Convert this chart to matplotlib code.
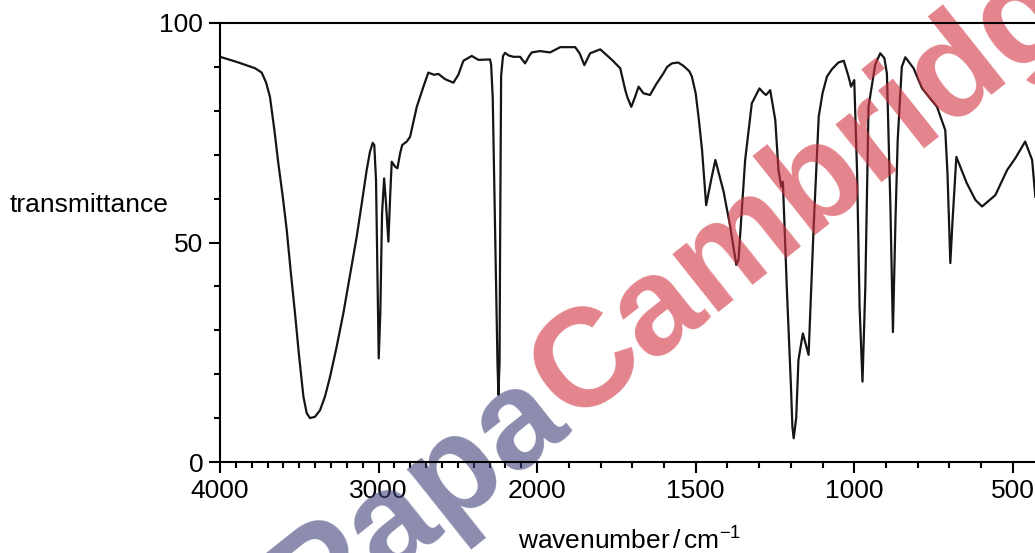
import numpy as np
import matplotlib
matplotlib.use("Agg")
import matplotlib.pyplot as plt
from matplotlib.ticker import FixedLocator

plt.rcParams['font.family'] = ['Liberation Sans', 'DejaVu Sans']
plt.rcParams['mathtext.fontset'] = 'custom'
plt.rcParams['mathtext.rm'] = 'Liberation Sans'
plt.rcParams['mathtext.it'] = 'Liberation Sans'

# IR spectrum: wavenumber (cm-1) and transmittance (%)
wavenumber = [4000, 3900, 3779, 3737, 3710, 3685, 3657, 3632, 3604, 3579, 3554, 3527,
              3502, 3474, 3453, 3432, 3401, 3369, 3338, 3306, 3264, 3222, 3180, 3138,
              3106, 3075, 3054, 3037, 3027, 3016, 3008, 2999, 2989, 2978, 2965, 2953,
              2938, 2927, 2917, 2896, 2881, 2864, 2851, 2822, 2801, 2759, 2717, 2686,
              2650, 2623, 2580, 2528, 2497, 2465, 2412, 2370, 2297, 2290, 2280, 2265,
              2250, 2244, 2237, 2233, 2227, 2215, 2202, 2180, 2149, 2107, 2076, 2050,
              2034, 1991, 1959, 1927, 1880, 1866, 1851, 1833, 1801, 1764, 1738, 1722,
              1715, 1703, 1692, 1680, 1665, 1644, 1625, 1602, 1590, 1575, 1555, 1538,
              1520, 1512, 1500, 1490, 1480, 1467, 1452, 1438, 1412, 1391, 1372, 1365,
              1355, 1344, 1323, 1299, 1285, 1278, 1265, 1249, 1239, 1230, 1225, 1212,
              1200, 1195, 1191, 1183, 1176, 1162, 1144, 1128, 1112, 1100, 1086, 1070,
              1050, 1033, 1018, 1010, 1000, 991, 983, 974, 965, 955, 934, 918,
              905, 897, 886, 878, 870, 863, 850, 839, 813, 786, 739, 713,
              706, 697, 690, 678, 645, 618, 597, 555, 518, 492, 461, 439,
              429]
transmittance = [92.3, 91.2, 89.7, 88.7, 86.5, 83.2, 75.6, 68.0, 60.4, 52.8, 43.4, 33.9,
                 24.4, 14.9, 11.1, 10.0, 10.3, 11.8, 14.9, 19.4, 26.3, 33.9, 42.6, 51.3,
                 58.9, 66.5, 70.7, 72.7, 72.2, 64.2, 45.3, 23.6, 33.9, 56.6, 64.6, 58.9,
                 50.2, 60.4, 68.4, 67.3, 66.9, 70.3, 72.2, 73.0, 74.1, 80.9, 85.5, 88.7,
                 88.2, 88.4, 87.2, 86.4, 88.2, 91.4, 92.5, 91.6, 91.7, 90.5, 83.0, 52.8,
                 22.5, 15.3, 22.5, 52.8, 88.0, 92.5, 93.2, 92.6, 92.3, 92.3, 90.8, 92.5,
                 93.3, 93.6, 93.3, 94.5, 94.5, 93.1, 90.4, 93.1, 94.0, 91.6, 89.7, 84.7,
                 83.0, 80.9, 83.0, 85.5, 84.0, 83.6, 86.0, 88.5, 90.0, 90.8, 91.0, 90.2,
                 89.0, 87.8, 84.0, 78.0, 71.1, 58.5, 64.0, 68.8, 61.6, 53.6, 44.9, 46.0,
                 57.0, 68.8, 81.7, 85.1, 84.0, 83.6, 84.7, 77.9, 66.5, 62.7, 63.8, 38.5,
                 18.0, 8.0, 5.4, 10.0, 23.2, 29.3, 24.4, 53.6, 78.7, 84.0, 87.8, 89.5,
                 91.0, 91.4, 87.8, 85.5, 87.0, 65.8, 35.0, 18.3, 40.0, 80.9, 90.5, 93.1,
                 92.0, 88.5, 58.2, 29.6, 55.0, 73.3, 90.0, 92.2, 89.7, 85.1, 80.9, 75.6,
                 65.8, 45.3, 55.0, 69.5, 63.5, 59.7, 58.2, 60.8, 66.5, 69.2, 73.0, 68.8,
                 60.4]

x_major = [4000, 3000, 2000, 1500, 1000, 500]
y_major = [0, 50, 100]


# usual IR chart: the axis is compressed by half above 2000 cm-1
def fwd(x):
    x = np.asarray(x, dtype=float)
    return np.where(x > 2000, 2000 + (x - 2000) / 2, x)


def inv(y):
    y = np.asarray(y, dtype=float)
    return np.where(y > 2000, 2000 + (y - 2000) * 2, y)


fig = plt.figure(figsize=(10.35, 5.53), dpi=100)
ax = fig.add_axes([220 / 1035, 91 / 553, 815 / 1035, 439 / 553])

ax.plot(wavenumber, transmittance, color='#151515', linewidth=1.6,
        solid_joinstyle='round', zorder=2)

ax.set_xscale('function', functions=(fwd, inv))
ax.set_xlim(4000, 430)
ax.set_ylim(0, 100)

ax.xaxis.set_major_locator(FixedLocator(x_major))
ax.xaxis.set_minor_locator(FixedLocator([w for w in range(600, 4000, 100) if w not in x_major]))
ax.set_xticklabels([str(v) for v in x_major])
ax.yaxis.set_major_locator(FixedLocator(y_major))
ax.yaxis.set_minor_locator(FixedLocator([v for v in range(10, 100, 10) if v not in y_major]))
ax.set_yticklabels([str(v) for v in y_major])

ax.tick_params(which='major', direction='out', length=8, width=1.5, labelsize=19, pad=4)
ax.tick_params(which='minor', direction='out', length=4.5, width=1.5)

for side in ['left', 'bottom', 'top']:
    ax.spines[side].set_linewidth(1.5)
ax.spines['right'].set_visible(False)

ax.set_ylabel('transmittance', rotation=0, ha='left', va='center', fontsize=19)
ax.yaxis.set_label_coords(-210 / 815, (462 - 205) / 439)
ax.set_xlabel(r'wavenumber$\,/\,$cm$^{-1}$', fontsize=19)
ax.xaxis.set_label_coords(0.503, -0.149)

# watermark across the chart
ang = 38.5
jx, jy = 572 / 1035, (553 - 425) / 553
ax.text(jx, jy, 'Papa', transform=fig.transFigure, rotation=ang, rotation_mode='anchor',
        ha='right', va='baseline', fontsize=100, fontweight='bold',
        color=(63 / 255, 63 / 255, 122 / 255), alpha=0.6, zorder=2.2, clip_on=False)
ax.text(jx, jy, 'Cambridge', transform=fig.transFigure, rotation=ang, rotation_mode='anchor',
        ha='left', va='baseline', fontsize=100, fontweight='bold',
        color=(210 / 255, 50 / 255, 65 / 255), alpha=0.6, zorder=2.2, clip_on=False)

fig.savefig('out.png', dpi=100)
